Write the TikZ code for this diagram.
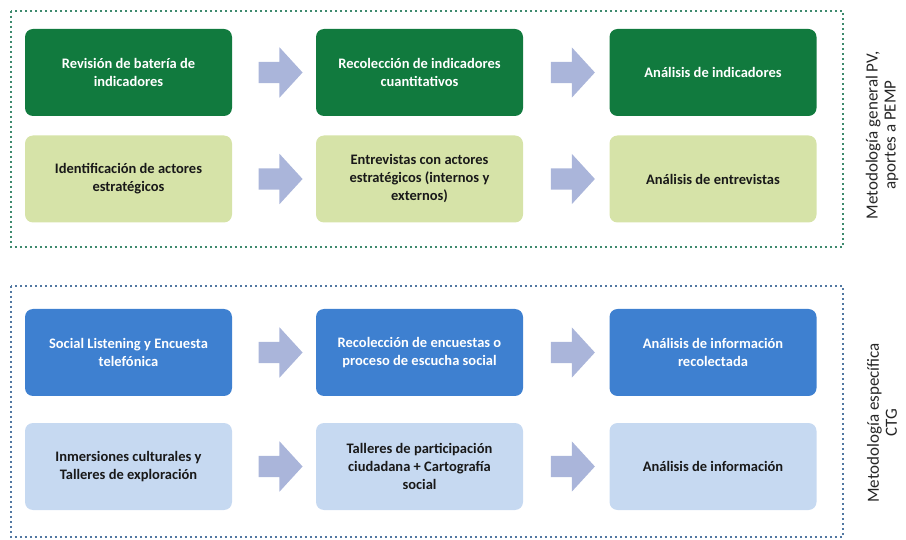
\documentclass[tikz,border=0pt]{standalone}
\usepackage{fontspec}
\setmainfont{Carlito}
\usetikzlibrary{shapes.arrows}
\usetikzlibrary{calc}

\definecolor{darkgreen}{RGB}{17,122,62}
\definecolor{lightgreen}{RGB}{214,227,168}
\definecolor{darkblue}{RGB}{62,128,208}
\definecolor{lightblue}{RGB}{198,217,241}
\definecolor{arrowfill}{RGB}{170,181,218}
\definecolor{frametop}{RGB}{62,138,110}
\definecolor{framebot}{RGB}{82,120,162}

\tikzset{
  stepbox/.style={rectangle, rounded corners=8pt, minimum width=207pt, minimum height=87pt,
    align=center, inner sep=0pt,
    font=\bfseries\fontsize{14.5}{18}\selectfont},
  darkgreenbox/.style={stepbox, fill=darkgreen, text=white},
  lightgreenbox/.style={stepbox, fill=lightgreen, text=black!90},
  darkbluebox/.style={stepbox, fill=darkblue, text=white},
  lightbluebox/.style={stepbox, fill=lightblue, text=black!90},
  blockarrow/.style={single arrow, fill=arrowfill, draw=none, inner sep=0pt,
    minimum height=44pt, minimum width=50pt, text height=21pt, text depth=0pt, text width=0pt,
    single arrow head extend=14.5pt, single arrow tip angle=95},
  dotframe/.style={line width=2.4pt, dash pattern=on 2.4pt off 2.6pt},
  sidelabel/.style={rotate=90, align=center, font=\fontsize{17}{18}\selectfont, text=black!85}
}

\begin{document}
\begin{tikzpicture}[x=1pt, y=-1pt]
  \useasboundingbox (0,0) rectangle (906,540);

  % frames
  \draw[dotframe, frametop] (11,11) rectangle (843,247);
  \draw[dotframe, framebot] (11,286) rectangle (843,537);

  % first block
  \node[darkgreenbox] (b11) at (128.5,72.5) {Revisión de batería de\\ indicadores};
  \node[darkgreenbox] (b12) at (419.5,72.5) {Recolección de indicadores\\ cuantitativos};
  \node[darkgreenbox] (b13) at (713,72.5) {Análisis de indicadores};
  \node[lightgreenbox] (b21) at (128.5,179) {Identificación de actores\\ estratégicos};
  \node[lightgreenbox] (b22) at (419.5,179) {Entrevistas con actores\\ estratégicos (internos y\\ externos)};
  \node[lightgreenbox] (b23) at (713,179) {Análisis de entrevistas};

  % second block
  \node[darkbluebox] (b31) at (128.5,352.5) {Social Listening y Encuesta\\ telefónica};
  \node[darkbluebox] (b32) at (419.5,352.5) {Recolección de encuestas o\\ proceso de escucha social};
  \node[darkbluebox] (b33) at (713,352.5) {Análisis de información\\ recolectada};
  \node[lightbluebox] (b41) at (128.5,466.5) {Inmersiones culturales y\\ Talleres de exploración};
  \node[lightbluebox] (b42) at (419.5,466.5) {Talleres de participación\\ ciudadana + Cartografía\\ social};
  \node[lightbluebox] (b43) at (713,466.5) {Análisis de información};

  % arrows between steps
  \foreach \r in {1,2,3,4}{
    \node[blockarrow] (a\r1) at ($(b\r1.east)!0.52!(b\r2.west)$) {};
    \node[blockarrow] (a\r2) at ($(b\r2.east)!0.52!(b\r3.west)$) {};
  }

  % side labels
  \node[sidelabel] (lab1) at (882,135) {Metodología general PV,\\ aportes a PEMP};
  \node[sidelabel] (lab2) at (882,423) {Metodología específica\\ CTG};
\end{tikzpicture}
\end{document}
